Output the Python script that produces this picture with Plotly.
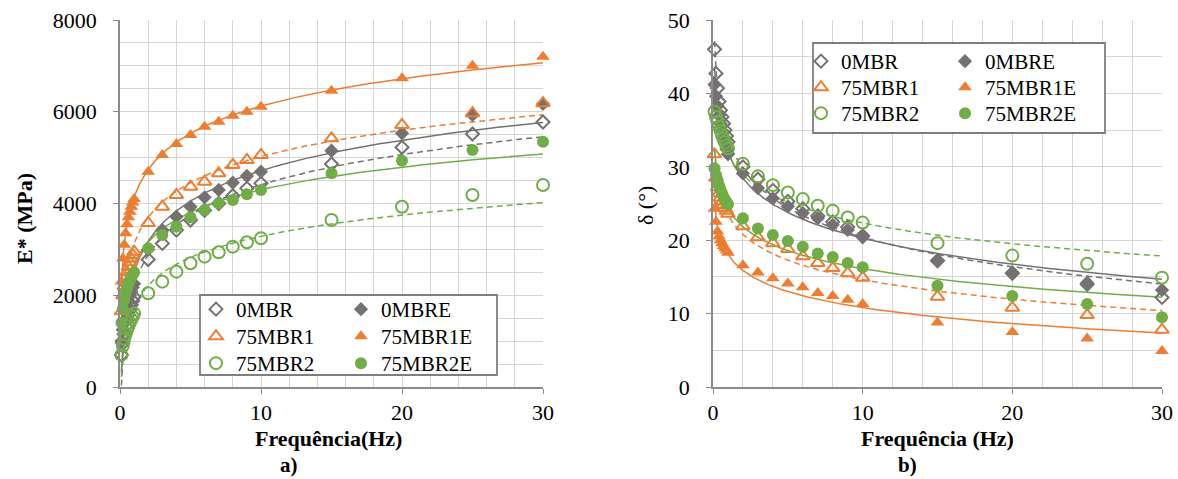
import numpy as np
import plotly.graph_objects as go

W, H = 1178, 479

# ---------------- data ----------------
freq = [0.1, 0.2, 0.3, 0.4, 0.5, 0.6, 0.7, 0.8, 0.9, 1, 2, 3, 4, 5, 6, 7, 8, 9, 10, 15, 20, 25, 30]

E_0MBR = [700, 950, 1150, 1320, 1460, 1580, 1690, 1790, 1880, 1960, 2780, 3130, 3420, 3640, 3850, 4000, 4170, 4330, 4440, 4860, 5225, 5515, 5777]
E_0MBRE = [1000, 1250, 1450, 1620, 1760, 1880, 1990, 2080, 2170, 2250, 3000, 3420, 3713, 3930, 4134, 4295, 4455, 4600, 4694, 5150, 5530, 5930, 6170]
E_75MBR1 = [1650, 2000, 2200, 2380, 2500, 2620, 2720, 2800, 2880, 2950, 3575, 3930, 4186, 4367, 4476, 4658, 4840, 4949, 5058, 5420, 5712, 5967, 6185]
E_75MBR1E = [2300, 2800, 3100, 3350, 3550, 3700, 3820, 3930, 4020, 4100, 4694, 5058, 5297, 5494, 5675, 5780, 5915, 6000, 6110, 6460, 6730, 7005, 7200]
E_75MBR2 = [700, 900, 1050, 1150, 1250, 1330, 1400, 1470, 1530, 1600, 2042, 2296, 2514, 2696, 2841, 2936, 3059, 3155, 3242, 3640, 3930, 4186, 4404]
E_75MBR2E = [1400, 1700, 1900, 2050, 2150, 2250, 2330, 2400, 2450, 2500, 3023, 3314, 3495, 3700, 3860, 4005, 4077, 4200, 4295, 4658, 4934, 5167, 5348]

d_0MBR = [46.0, 42.7, 40.7, 38.9, 37.7, 36.8, 35.9, 35.0, 34.2, 33.4, 30.0, 28.3, 26.8, 25.3, 24.3, 23.3, 22.5, 21.8, 20.6, 17.2, 15.5, 14.0, 12.2]
d_0MBRE = [41.2, 39.6, 38.3, 37.0, 35.9, 34.9, 34.0, 33.2, 32.4, 31.7, 29.1, 27.1, 25.7, 24.6, 23.7, 23.0, 22.1, 21.4, 20.4, 17.3, 15.6, 14.2, 13.2]
d_75MBR1 = [31.7, 28.5, 27.2, 26.4, 25.8, 25.3, 24.8, 24.4, 24.0, 23.6, 21.9, 20.4, 19.6, 18.8, 17.8, 16.9, 16.2, 15.5, 14.9, 12.3, 10.8, 9.8, 7.8]
d_75MBR1E = [24.3, 22.5, 21.2, 20.5, 20.0, 19.6, 19.2, 18.9, 18.6, 18.3, 16.6, 15.6, 14.8, 14.1, 13.6, 12.8, 12.4, 11.9, 11.3, 8.8, 7.5, 6.6, 4.9]
d_75MBR2 = [37.5, 36.8, 36.1, 35.5, 34.9, 34.3, 33.8, 33.3, 32.9, 32.5, 30.4, 28.7, 27.5, 26.5, 25.6, 24.7, 24.0, 23.1, 22.4, 19.6, 17.9, 16.8, 14.9]
d_75MBR2E = [29.8, 28.9, 28.2, 27.5, 26.9, 26.4, 25.9, 25.5, 25.2, 24.9, 23.0, 21.6, 20.7, 19.9, 19.1, 18.2, 17.7, 16.9, 16.3, 13.8, 12.4, 11.3, 9.5]

series_names = ["0MBR", "0MBRE", "75MBR1", "75MBR1E", "75MBR2", "75MBR2E"]
E_values = [E_0MBR, E_0MBRE, E_75MBR1, E_75MBR1E, E_75MBR2, E_75MBR2E]
d_values = [d_0MBR, d_0MBRE, d_75MBR1, d_75MBR1E, d_75MBR2, d_75MBR2E]

# ---------------- styles ----------------
GRAY, ORANGE, GREEN = "#757171", "#ED7D31", "#70AD47"
styles = {
    "0MBR": dict(color=GRAY, symbol="diamond-open", size=10, dash="6px,4px"),
    "0MBRE": dict(color=GRAY, symbol="diamond", size=11, dash="solid"),
    "75MBR1": dict(color=ORANGE, symbol="triangle-up-open", size=12, dash="6px,4px"),
    "75MBR1E": dict(color=ORANGE, symbol="triangle-up", size=12, dash="solid"),
    "75MBR2": dict(color=GREEN, symbol="circle-open", size=12, dash="6px,4px"),
    "75MBR2E": dict(color=GREEN, symbol="circle", size=12, dash="solid"),
}
FONT = "Liberation Serif, Times New Roman, serif"


def px(x):
    return x / W


def py(y):
    return 1 - y / H


# legend entry positions (symbol centre x, row centre y) in pixels
legend_pos = {
    "a": {"0MBR": (215, 308), "0MBRE": (360, 308),
          "75MBR1": (215, 335), "75MBR1E": (360, 335),
          "75MBR2": (215, 362), "75MBR2E": (360, 362)},
    "b": {"0MBR": (820, 60), "0MBRE": (964, 60),
          "75MBR1": (820, 86), "75MBR1E": (964, 86),
          "75MBR2": (820, 112), "75MBR2E": (964, 112)},
}

fig = go.Figure()

f_arr = np.array(freq, dtype=float)
f_fit = np.linspace(min(freq), max(freq), 400)

leg_common = dict(bgcolor="rgba(0,0,0,0)", borderwidth=0, orientation="v",
                  xanchor="left", yanchor="top", tracegroupgap=0,
                  font=dict(family=FONT, size=21, color="black"))
legend_layouts = {}
leg_idx = 0

for panel, values in (("a", E_values), ("b", d_values)):
    xa, ya = ("x", "y") if panel == "a" else ("x2", "y2")
    for name, vals in zip(series_names, values):
        st = styles[name]
        # logarithmic trendline (least squares on ln f)
        k, c = np.polyfit(np.log(f_arr), np.array(vals, dtype=float), 1)
        fig.add_trace(go.Scatter(
            x=f_fit, y=k * np.log(f_fit) + c, mode="lines", xaxis=xa, yaxis=ya,
            line=dict(color=st["color"], width=1.5, dash=st["dash"]),
            showlegend=False, hoverinfo="skip"))
    for name, vals in zip(series_names, values):
        st = styles[name]
        leg_idx += 1
        leg = "legend" if leg_idx == 1 else f"legend{leg_idx}"
        sx, sy = legend_pos[panel][name]
        legend_layouts[leg] = dict(x=px(sx - 19), y=py(sy - 19), **leg_common)
        open_m = "open" in st["symbol"]
        fig.add_trace(go.Scatter(
            x=freq, y=vals, mode="markers", name=name, xaxis=xa, yaxis=ya,
            legend=leg, cliponaxis=False,
            marker=dict(symbol=st["symbol"], size=st["size"], color=st["color"],
                        line=dict(color=st["color"], width=2 if open_m else 0))))

grid = "#D6D6D6"
axis_common = dict(
    showline=True, linecolor="#8C8C8C", linewidth=1.5,
    showgrid=True, gridcolor=grid, gridwidth=1.4,
    ticks="outside", ticklen=5, tickcolor="#8C8C8C", tickwidth=1.3,
    tickfont=dict(family=FONT, size=22, color="black"),
    zeroline=False, fixedrange=True, automargin=False,
)

fig.update_layout(
    width=W, height=H, margin=dict(l=0, r=0, t=0, b=0, autoexpand=False),
    paper_bgcolor="white", plot_bgcolor="white",
    font=dict(family=FONT, color="black"),
    xaxis=dict(domain=[px(120), px(543)], range=[0, 30], dtick=10, anchor="y",
               minor=dict(dtick=2, showgrid=True, gridcolor=grid, gridwidth=1.4),
               ticklabelstandoff=0, **axis_common),
    yaxis=dict(domain=[py(387), py(20)], range=[0, 8000], dtick=2000, anchor="x",
               minor=dict(dtick=500, showgrid=True, gridcolor=grid, gridwidth=1.4),
               ticklabelstandoff=12, **axis_common),
    xaxis2=dict(domain=[px(713), px(1162)], range=[0, 30], dtick=10, anchor="y2",
                minor=dict(dtick=2, showgrid=True, gridcolor=grid, gridwidth=1.4),
                ticklabelstandoff=0, **axis_common),
    yaxis2=dict(domain=[py(387), py(20)], range=[0, 50], dtick=10, anchor="x2",
                minor=dict(dtick=5, showgrid=True, gridcolor=grid, gridwidth=1.4),
                ticklabelstandoff=12, **axis_common),
    **legend_layouts,
)

# legend frames
for (x0, y0, x1, y1) in ((200, 295, 497, 375), (813, 43, 1105, 133)):
    fig.add_shape(type="rect", xref="paper", yref="paper",
                  x0=px(x0), x1=px(x1), y0=py(y1), y1=py(y0),
                  line=dict(color="#7F7F7F", width=1.8), fillcolor="white", layer="above")

# titles
ann = [
    dict(text="<b>E* (MPa)</b>", x=px(24), y=py(219), textangle=-90, size=22),
    dict(text="δ (°)", x=px(645), y=py(206), textangle=-90, size=22),
    dict(text="<b>Frequência(Hz)</b>", x=px(328), y=py(438), textangle=0, size=22),
    dict(text="<b>Frequência (Hz)</b>", x=px(937), y=py(438), textangle=0, size=22),
    dict(text="<b>a)</b>", x=px(289), y=py(465), textangle=0, size=21),
    dict(text="<b>b)</b>", x=px(908), y=py(465), textangle=0, size=21),
]
for a in ann:
    fig.add_annotation(text=a["text"], x=a["x"], y=a["y"], xref="paper", yref="paper",
                       xanchor="center", yanchor="middle", showarrow=False,
                       textangle=a["textangle"], borderpad=0,
                       font=dict(family=FONT, size=a["size"], color="black"))

fig.write_html("out.html")
